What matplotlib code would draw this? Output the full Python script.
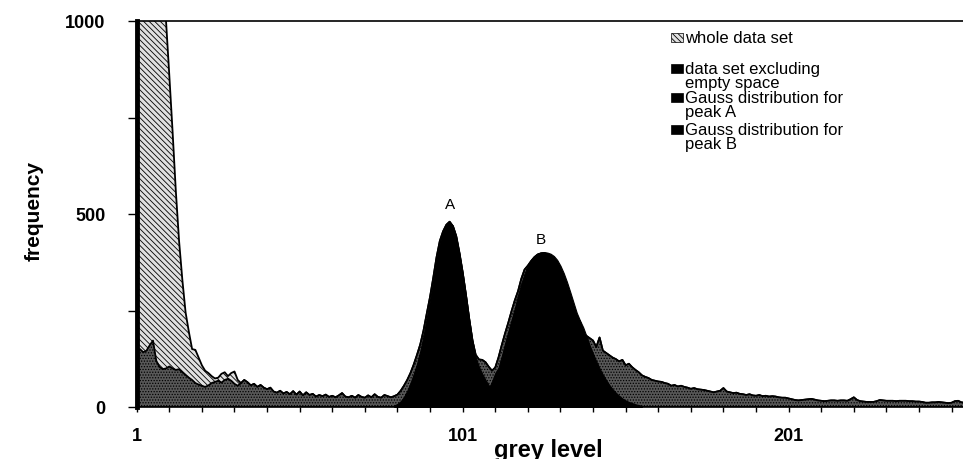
import numpy as np
import matplotlib
matplotlib.use("Agg")
import matplotlib.pyplot as plt
from matplotlib.patches import Rectangle

# histogram values, grey levels 1..255
data_excl = [
    145, 150, 142, 146, 160, 172, 120, 104, 98, 100,
    105, 100, 96, 98, 90, 83, 76, 70, 62, 58,
    55, 52, 56, 62, 65, 68, 63, 70, 73, 68,
    60, 55, 62, 70, 64, 56, 60, 52, 57, 50,
    46, 50, 40, 37, 42, 35, 39, 33, 41, 32,
    40, 30, 38, 31, 34, 27, 31, 28, 32, 26,
    29, 25, 30, 36, 27, 25, 29, 24, 31, 26,
    24, 30, 25, 33, 26, 24, 31, 28, 25, 28,
    32, 42, 55, 70, 88, 110, 135, 162, 198, 242,
    285, 335, 388, 430, 455, 472, 480, 468, 442, 398,
    348, 290, 228, 172, 135, 123, 122, 116, 104, 94,
    102, 128, 160, 190, 218, 248, 276, 300, 332, 356,
    366, 378, 388, 395, 398, 399, 396, 389, 377, 360,
    342, 320, 296, 272, 246, 228, 222, 190, 184, 178,
    172, 155, 180, 146, 140, 134, 128, 124, 118, 122,
    108, 112, 103, 96, 90, 82, 78, 75, 70, 68,
    66, 65, 62, 60, 55, 57, 53, 55, 52, 50,
    47, 49, 46, 45, 44, 42, 40, 38, 40, 42,
    49, 40, 38, 36, 37, 34, 33, 31, 33, 30,
    29, 31, 28, 29, 27, 28, 27, 25, 24, 24,
    22, 20, 18, 17, 18, 19, 20, 21, 19, 17,
    16, 15, 16, 17, 17, 16, 17, 17, 16, 20,
    25, 18, 15, 14, 13, 13, 13, 15, 18, 17,
    16, 16, 16, 15, 16, 16, 16, 15, 15, 14,
    14, 13, 11, 11, 12, 12, 13, 12, 11, 10,
    11, 15, 16, 12, 11,
]

# whole data set differs only at the low grey levels (1..33), off scale at first
whole_head = [
    9000, 8000, 7000, 6000, 5000, 4000, 3000, 2200, 1500, 1000,
    860, 715, 560, 430, 330, 245, 195, 150, 148, 128,
    108, 94, 88, 80, 74, 76, 86, 90, 80, 88,
    92, 70, 62,
]
whole = whole_head + data_excl[len(whole_head):]

gauss_a_start = 80
gauss_a = [
    4, 8, 15, 26, 42, 62, 86, 112, 145, 185,
    232, 278, 328, 382, 426, 455, 474, 480, 470, 444,
    400, 348, 290, 228, 172, 128, 104, 86, 70, 56,
    42, 30, 20, 13, 8, 4, 2,
]

gauss_b_start = 104
gauss_b = [
    6, 10, 16, 24, 34, 48, 66, 88, 102, 132,
    165, 196, 226, 256, 290, 320, 346, 366, 381, 391,
    397, 400, 401, 400, 397, 391, 381, 366, 347, 324,
    298, 271, 244, 224, 206, 183, 159, 138, 118, 100,
    84, 70, 57, 46, 37, 29, 22, 17, 13, 10,
    7, 5, 3,
]

legend_labels = ["whole data set", "data set excluding\nempty space",
                 "Gauss distribution for\npeak A", "Gauss distribution for\npeak B"]

grey = np.arange(1, len(data_excl) + 1)
grey_a = np.arange(gauss_a_start, gauss_a_start + len(gauss_a))
grey_b = np.arange(gauss_b_start, gauss_b_start + len(gauss_b))

plt.rcParams['font.family'] = ['Liberation Sans', 'DejaVu Sans']
plt.rcParams['hatch.linewidth'] = 0.6

W, H = 963, 460
fig = plt.figure(figsize=(W / 100, H / 100), dpi=100)
ax = fig.add_axes([136.7 / W, 1 - 408 / H, 1 - 136.7 / W, 386 / H])

ax.fill_between(grey, whole, 0, facecolor='#e0e0e0', edgecolor='black',
                hatch='\\\\\\\\\\\\', lw=1.3, zorder=1)
ax.fill_between(grey, data_excl, 0, facecolor='#585858', edgecolor='black',
                hatch='......', lw=1.3, zorder=2)
ax.fill_between(grey_a, gauss_a, 0, color='black', lw=0.8, zorder=3)
ax.fill_between(grey_b, gauss_b, 0, color='black', lw=0.8, zorder=4)

ax.set_xlim(1, 254.5)
ax.set_ylim(0, 1000)

ax.set_xticks([1, 101, 201])
ax.set_xticks(np.arange(1, 255, 10), minor=True)
ax.set_yticks([0, 500, 1000])
ax.set_yticks([250, 750], minor=True)
ax.tick_params(axis='x', which='both', direction='out', length=3.6, width=1, pad=11,
               labelsize=13)
ax.tick_params(axis='y', which='both', direction='out', length=6.5, width=1, pad=16,
               labelsize=13)
for lab in ax.get_xticklabels() + ax.get_yticklabels():
    lab.set_fontweight('bold')

ax.spines['right'].set_visible(False)
ax.spines['top'].set_linewidth(1.2)
ax.spines['bottom'].set_linewidth(1.2)
ax.spines['left'].set_linewidth(3.5)

ax.set_xlabel("grey level", fontsize=17, fontweight='bold')
ax.xaxis.set_label_coords(0.498, -0.08)
ax.set_ylabel("frequency", fontsize=15, fontweight='bold')
ax.yaxis.set_label_coords(-0.113, 0.51)

ax.text(97.1, 526, "A", ha='center', va='center', fontsize=11)
ax.text(125, 435, "B", ha='center', va='center', fontsize=11)

# legend drawn by hand: box beside the first line of each label
legend_rows = [39, 70, 99, 131]
for i, (lab, row) in enumerate(zip(legend_labels, legend_rows)):
    if i == 0:
        box = Rectangle((671 / W, 1 - (row + 4) / H), 12 / W, 9 / H, transform=fig.transFigure,
                        facecolor='#e0e0e0', edgecolor='black', hatch='\\\\\\\\\\\\', lw=0.5)
    else:
        box = Rectangle((671 / W, 1 - (row + 4) / H), 12 / W, 9 / H, transform=fig.transFigure,
                        facecolor='black', edgecolor='black', lw=0.5)
    fig.add_artist(box)
    fig.text(685 / W, 1 - (row - 8) / H, lab, ha='left', va='top', fontsize=12,
             linespacing=0.95)

fig.savefig("out.png", dpi=100)
